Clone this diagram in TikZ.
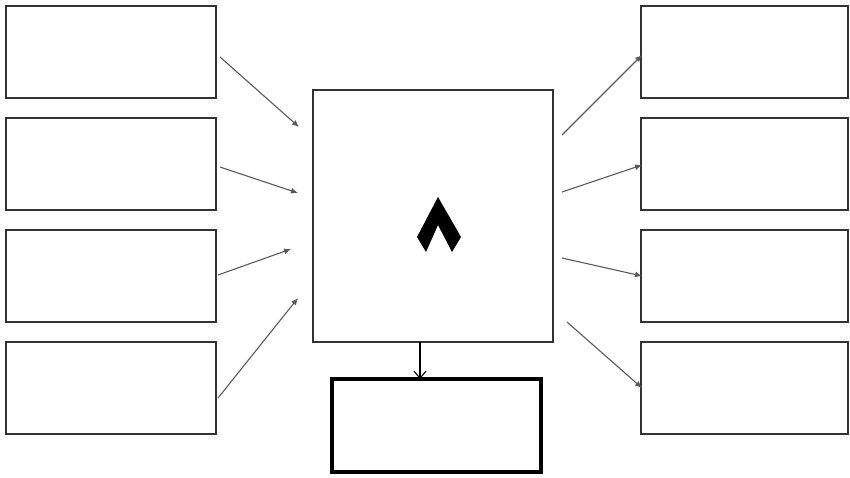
\documentclass[tikz,border=0pt]{standalone}
\usetikzlibrary{arrows.meta}
\begin{document}
\begin{tikzpicture}[x=1pt,y=-1pt,
  sidebox/.style={draw=black!80,line width=1.6pt,fill=white,minimum width=210pt,minimum height=92pt,inner sep=0pt,outer sep=0pt,anchor=north west},
  mainbox/.style={draw=black!80,line width=1.6pt,fill=white,inner sep=0pt,outer sep=0pt,anchor=north west},
  outbox/.style={draw=black,line width=3.5pt,fill=white,inner sep=0pt,outer sep=0pt,anchor=north west},
  feed/.style={draw=black!65,line width=1.1pt,-{Latex[length=7pt,width=6pt]}},
  downarrow/.style={draw=black,line width=1.1pt,-{Straight Barb[length=7pt,width=12pt]}}]
\useasboundingbox (0,0) rectangle (850,477);
% left boxes
\node[sidebox] (l1) at (6,6) {};
\node[sidebox] (l2) at (6,118) {};
\node[sidebox] (l3) at (6,230) {};
\node[sidebox] (l4) at (6,342) {};
% right boxes
\node[sidebox,minimum width=207pt] (r1) at (641,6) {};
\node[sidebox,minimum width=207pt] (r2) at (641,118) {};
\node[sidebox,minimum width=207pt] (r3) at (641,230) {};
\node[sidebox,minimum width=207pt] (r4) at (641,342) {};
% main box
\node[mainbox,minimum width=240pt,minimum height=252pt] (main) at (313,90) {};
% output box
\node[outbox,minimum width=209pt,minimum height=93pt] (out) at (332,379) {};
% chevron symbol
\fill[black] (438,197) -- (461,237) -- (452,252) -- (438,225) -- (426,252) -- (417,237) -- cycle;
% arrow end points
\coordinate (a1s) at (220,57);  \coordinate (a1e) at (299,127);
\coordinate (a2s) at (220,167); \coordinate (a2e) at (298,193);
\coordinate (a3s) at (218,275); \coordinate (a3e) at (291,249);
\coordinate (a4s) at (218,398); \coordinate (a4e) at (298,298);
\coordinate (b1s) at (562,135); \coordinate (b1e) at (642,55);
\coordinate (b2s) at (562,192); \coordinate (b2e) at (642,165);
\coordinate (b3s) at (562,258); \coordinate (b3e) at (642,276);
\coordinate (b4s) at (567,322); \coordinate (b4e) at (642,388);
\draw[feed] (a1s) -- (a1e);
\draw[feed] (a2s) -- (a2e);
\draw[feed] (a3s) -- (a3e);
\draw[feed] (a4s) -- (a4e);
\draw[feed] (b1s) -- (b1e);
\draw[feed] (b2s) -- (b2e);
\draw[feed] (b3s) -- (b3e);
\draw[feed] (b4s) -- (b4e);
\coordinate (dtop) at (420,342);
\draw[downarrow] (dtop) -- (dtop |- out.north);
\end{tikzpicture}
\end{document}
